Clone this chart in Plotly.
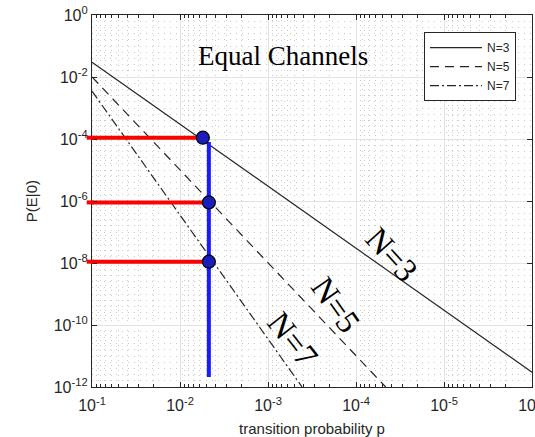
import numpy as np
import plotly.graph_objects as go

# Error probability curves (straight lines on log-log axes), endpoints per N
p_n3 = [1e-1, 1e-6]
P_n3 = [3e-2, 3e-12]
p_n5 = [1e-1, 4.6e-5]
P_n5 = [1e-2, 1e-12]
p_n7 = [1e-1, 4.1e-4]
P_n7 = [3.5e-3, 1e-12]

# Operating points and their error levels
p_mark = [5.5e-3, 4.7e-3, 4.7e-3]
P_mark = [1.1e-4, 9e-7, 1.1e-8]

# Vertical reference at the chosen transition probability
p_vert = 4.7e-3
P_vert = [8e-5, 2.1e-12]

# Curve labels: position (p, P) and angle
lab_text = ["N=3", "N=5", "N=7"]
lab_p = [3.9e-5, 1.7e-4, 5.2e-4]
lab_P = [1.8e-8, 4.4e-10, 3.3e-11]
lab_ang = [48, 55, 52]

x_ticks = [1e-1, 1e-2, 1e-3, 1e-4, 1e-5, 1e-6]
x_ticktext = ["10<sup>-1</sup>", "10<sup>-2</sup>", "10<sup>-3</sup>",
              "10<sup>-4</sup>", "10<sup>-5</sup>", "10<sup>-6</sup>"]
y_ticks = [1e0, 1e-2, 1e-4, 1e-6, 1e-8, 1e-10, 1e-12]
y_ticktext = ["10<sup>0</sup>", "10<sup>-2</sup>", "10<sup>-4</sup>", "10<sup>-6</sup>",
              "10<sup>-8</sup>", "10<sup>-10</sup>", "10<sup>-12</sup>"]

INK = "#262626"
SANS = "Liberation Sans, Arial, sans-serif"
SERIF = "Liberation Serif, Times New Roman, serif"

fig = go.Figure()

fig.add_trace(go.Scatter(x=p_n3, y=P_n3, mode="lines", name="N=3",
                         line=dict(color=INK, width=1.2)))
fig.add_trace(go.Scatter(x=p_n5, y=P_n5, mode="lines", name="N=5",
                         line=dict(color=INK, width=1.2, dash="9px,6px")))
fig.add_trace(go.Scatter(x=p_n7, y=P_n7, mode="lines", name="N=7",
                         line=dict(color=INK, width=1.2, dash="9px,3px,2px,3px")))

# Horizontal red guides from the left axis to each operating point
for pm, Pm in zip(p_mark, P_mark):
    fig.add_trace(go.Scatter(x=[x_ticks[0], pm], y=[Pm, Pm], mode="lines",
                             line=dict(color="#ff0000", width=4),
                             showlegend=False, hoverinfo="skip"))
    # short overhang past the left axis line
    fig.add_shape(type="line", xref="paper", yref="y",
                  x0=-0.012, x1=0.004, y0=Pm, y1=Pm,
                  line=dict(color="#ff0000", width=4))

fig.add_trace(go.Scatter(x=[p_vert, p_vert], y=P_vert, mode="lines",
                         line=dict(color="#1a1aff", width=4),
                         showlegend=False, hoverinfo="skip"))

fig.add_trace(go.Scatter(x=p_mark, y=P_mark, mode="markers",
                         marker=dict(size=13, color="#1c1cb8",
                                     line=dict(color="#000000", width=1.2)),
                         showlegend=False, hoverinfo="skip"))

for t, px, py, a in zip(lab_text, lab_p, lab_P, lab_ang):
    fig.add_annotation(x=np.log10(px), y=np.log10(py), xref="x", yref="y",
                       text=t, textangle=a, showarrow=False,
                       font=dict(family=SERIF, size=33, color="#000000"))

fig.add_annotation(x=0.434, y=0.89, xref="paper", yref="paper",
                   xanchor="center", yanchor="middle",
                   text="Equal Channels", showarrow=False,
                   font=dict(family=SERIF, size=27, color="#000000"))

axis_common = dict(
    type="log", showline=True, mirror="ticks", linecolor=INK, linewidth=1.2,
    ticks="inside", ticklen=5, tickcolor=INK, tickwidth=1,
    showgrid=True, gridcolor="#e3e3e3", gridwidth=1,
    tickfont=dict(family=SANS, size=16, color=INK),
    ticklabeloverflow="allow", automargin=False,
    zeroline=False,
)

fig.update_xaxes(
    **axis_common, range=[-1, -6], tickmode="array", tickvals=x_ticks,
    ticktext=x_ticktext, ticklabelstandoff=4,
    title=dict(text="transition probability p", standoff=10,
               font=dict(family=SANS, size=15, color=INK)),
    minor=dict(dtick="D1", ticks="inside", ticklen=3, tickcolor=INK,
               showgrid=True, gridcolor="#cccccc", griddash="1px,4px", gridwidth=1),
)
fig.update_yaxes(
    **axis_common, range=[-12, 0], tickmode="array", tickvals=y_ticks,
    ticktext=y_ticktext,
    title=dict(text="P(E|0)", standoff=12,
               font=dict(family=SANS, size=15, color=INK)),
    minor=dict(tick0=0, dtick=0.2, ticks="", showgrid=True,
               gridcolor="#cccccc", griddash="1px,5px", gridwidth=1),
)

fig.update_layout(
    width=535, height=437,
    margin=dict(l=92, r=3, t=15, b=50),
    paper_bgcolor="white", plot_bgcolor="white",
    showlegend=True,
    legend=dict(x=0.9636, y=0.954, xanchor="right", yanchor="top",
                bgcolor="white", bordercolor=INK, borderwidth=1,
                font=dict(family=SANS, size=12, color=INK),
                itemwidth=52, tracegroupgap=0),
)

fig.write_html("out.html")
